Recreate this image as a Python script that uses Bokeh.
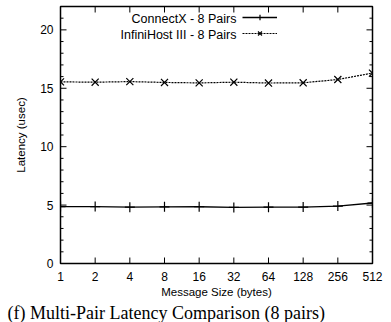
import math
from bokeh.plotting import figure
from bokeh.models import FixedTicker, Legend, LegendItem, Label, Range1d, Title
from bokeh.embed import file_html
from bokeh.resources import INLINE

sizes = [1, 2, 4, 8, 16, 32, 64, 128, 256, 512]
size_labels = ["1", "2", "4", "8", "16", "32", "64", "128", "256", "512"]
connectx = [4.87, 4.87, 4.82, 4.85, 4.86, 4.80, 4.82, 4.83, 4.92, 5.18]
infinihost = [15.55, 15.52, 15.57, 15.50, 15.46, 15.52, 15.45, 15.47, 15.75, 16.30]
series_names = ["ConnectX - 8 Pairs", "InfiniHost III - 8 Pairs"]
y_major = [0, 5, 10, 15, 20]
y_minor = [1, 2, 3, 4, 6, 7, 8, 9, 11, 12, 13, 14, 16, 17, 18, 19, 21]
caption = "(f) Multi-Pair Latency Comparison (8 pairs)"

FONT = "Liberation Sans"
X0, X1, Y0, Y1 = 1, 512, 0, 22

p = figure(width=391, height=322, x_axis_type="log", output_backend="svg",
           toolbar_location=None, x_range=Range1d(X0, X1), y_range=Range1d(Y0, Y1),
           min_border_left=60, min_border_right=19, min_border_top=6, min_border_bottom=0)
p.background_fill_color = "white"
p.border_fill_color = "white"
p.grid.visible = False
p.outline_line_color = "black"
p.outline_line_width = 1.5

p.xaxis.ticker = FixedTicker(ticks=sizes)
p.xaxis.major_label_overrides = {s: l for s, l in zip(sizes, size_labels)}
p.xaxis.axis_label = "Message Size (bytes)"
p.yaxis.ticker = FixedTicker(ticks=y_major)
p.yaxis.axis_label = "Latency (usec)"

for ax in [p.xaxis[0], p.yaxis[0]]:
    ax.axis_line_color = None
    ax.major_tick_line_color = None
    ax.minor_tick_line_color = None
    ax.major_tick_out = 0
    ax.major_tick_in = 0
    ax.major_label_text_font = FONT
    ax.major_label_text_font_size = "12px"
    ax.major_label_text_color = "black"
    ax.axis_label_text_font = FONT
    ax.axis_label_text_font_size = "11.5px"
    ax.axis_label_text_font_style = "normal"
    ax.axis_label_text_color = "black"

p.xaxis.major_label_standoff = 8
p.xaxis.axis_label_standoff = 2
p.yaxis.major_label_standoff = 7
p.yaxis.axis_label_standoff = 10

p.add_layout(Title(text=caption, align="left", offset=-53, standoff=0,
                   text_font="Liberation Serif", text_font_size="18px",
                   text_font_style="normal", text_color="black"), "below")

# inward ticks on all four sides (half of each dash is clipped by the frame)
for xe in (X0, X1):
    p.scatter([xe] * len(y_major), y_major, marker="dash", size=12, line_color="black", line_width=1)
    p.scatter([xe] * len(y_minor), y_minor, marker="dash", size=6, line_color="black", line_width=1)
for ye in (Y0, Y1):
    p.scatter(sizes, [ye] * len(sizes), marker="dash", size=12, angle=math.pi / 2,
              line_color="black", line_width=1)

r1 = p.line(sizes, connectx, line_color="black", line_width=1.3)
m1 = p.scatter(sizes, connectx, marker="cross", size=10, line_color="black", line_width=1.2)
r2 = p.line(sizes, infinihost, line_color="black", line_width=1.2, line_dash="2 1")
m2 = p.scatter(sizes, infinihost, marker="x", size=10, line_color="black", line_width=1.2)

legend = Legend(items=[LegendItem(label="", renderers=[r1, m1]),
                       LegendItem(label="", renderers=[r2, m2])],
                location=(182, 223), glyph_width=35, glyph_height=14, label_height=14,
                label_width=0, label_standoff=0, padding=0, spacing=2,
                label_text_font_size="1px",
                border_line_color=None, background_fill_alpha=0, margin=0)
p.add_layout(legend, "center")

for i, name in enumerate(series_names):
    p.add_layout(Label(x=176, y=245 - i * 16, x_units="screen", y_units="screen",
                       text=name, text_align="right", text_baseline="middle",
                       text_font=FONT, text_font_size="12.5px", text_color="black"))

open("out.html", "w").write(file_html(p, INLINE))
